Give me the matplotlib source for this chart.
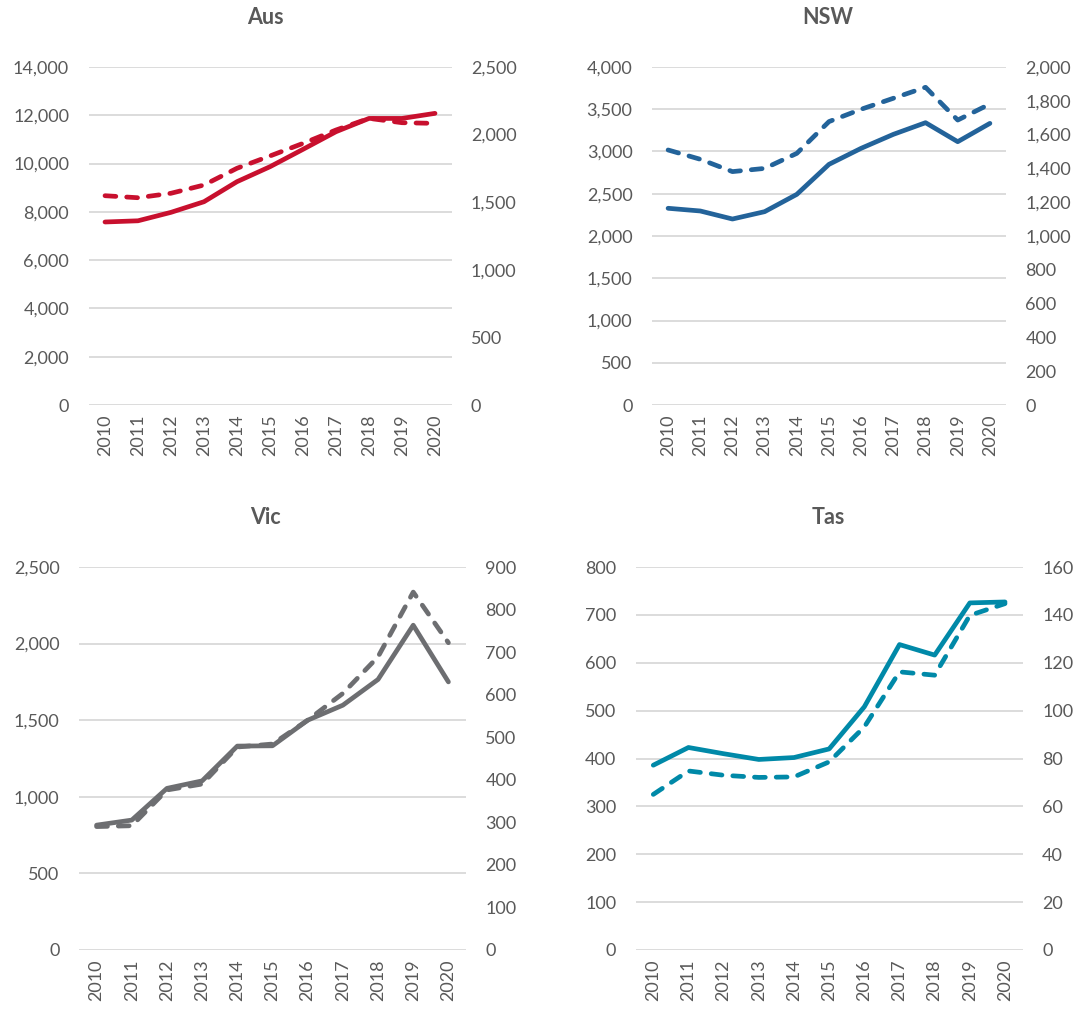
import matplotlib
matplotlib.use("Agg")
import matplotlib.pyplot as plt
from matplotlib.ticker import FuncFormatter, MultipleLocator

plt.rcParams["font.family"] = ["Lato", "DejaVu Sans"]

years = [str(y) for y in range(2010, 2021)]

# solid line -> left axis, dashed line -> right axis
aus_left = [7580, 7630, 7980, 8420, 9250, 9870, 10590, 11320, 11870, 11870, 12080]
aus_right = [1548, 1533, 1566, 1627, 1751, 1842, 1935, 2034, 2120, 2088, 2083]

nsw_left = [2328, 2296, 2201, 2288, 2493, 2848, 3038, 3203, 3341, 3116, 3333]
nsw_right = [1509, 1454, 1381, 1400, 1489, 1677, 1750, 1815, 1880, 1686, 1781]

vic_left = [815, 848, 1055, 1104, 1331, 1333, 1500, 1598, 1766, 2120, 1750]
vic_right = [290, 292, 376, 390, 477, 484, 540, 603, 689, 841, 722]

tas_left = [386, 423, 410, 398, 402, 420, 508, 638, 616, 725, 727]
tas_right = [65, 74.8, 73, 72.1, 72.3, 78.6, 93.2, 116.2, 114.8, 139.8, 144.7]

W, H = 1084, 1009
GREY_TXT = "#595959"
GRID = "#d9d9d9"

# (title, left, right, colour, left max/step, right max/step, axes box in px, title pos px)
panels = [
    ("Aus", aus_left, aus_right, "#c8102e", (14000, 2000), (2500, 500),
     (88.5, 67, 451.5, 405), (265, 18)),
    ("NSW", nsw_left, nsw_right, "#23639a", (4000, 500), (2000, 200),
     (652, 67, 1006, 405), (828, 18)),
    ("Vic", vic_left, vic_right, "#6d6e71", (2500, 500), (900, 100),
     (79, 567, 466, 950), (265, 518)),
    ("Tas", tas_left, tas_right, "#0089a8", (800, 100), (160, 20),
     (635.7, 567, 1022.6, 950), (828, 518)),
]

fmt = FuncFormatter(lambda v, p: f"{v:,.0f}")

fig = plt.figure(figsize=(W / 100, H / 100), dpi=100)

for title, left, right, color, (lmax, lstep), (rmax, rstep), box, tpos in panels:
    x0, y0, x1, y1 = box
    ax = fig.add_axes([x0 / W, 1 - y1 / H, (x1 - x0) / W, (y1 - y0) / H])
    ax2 = ax.twinx()

    x = range(len(years))
    ax.plot(x, left, color=color, lw=3.4, solid_capstyle="round", solid_joinstyle="round", zorder=3)
    ax2.plot(x, right, color=color, lw=3.4, dashes=(2.3, 2.3),
             dash_capstyle="round", dash_joinstyle="round")

    ax.set_xlim(-0.5, len(years) - 0.5)
    ax.set_ylim(0, lmax)
    ax2.set_ylim(0, rmax)
    ax.yaxis.set_major_locator(MultipleLocator(lstep))
    ax2.yaxis.set_major_locator(MultipleLocator(rstep))
    ax.yaxis.set_major_formatter(fmt)
    ax2.yaxis.set_major_formatter(fmt)

    ax.set_xticks(list(x))
    ax.set_xticklabels(years, rotation=90)

    ax.grid(axis="y", color=GRID, lw=1.3)
    ax.set_axisbelow(True)
    for a in (ax, ax2):
        for s in a.spines.values():
            s.set_visible(False)
    ax.tick_params(axis="y", length=0, pad=14, labelsize=13, labelcolor=GREY_TXT)
    ax2.tick_params(axis="y", length=0, pad=14, labelsize=13, labelcolor=GREY_TXT)
    ax.tick_params(axis="x", length=0, pad=7, labelsize=13, labelcolor=GREY_TXT)

    fig.text(tpos[0] / W, 1 - tpos[1] / H, title, ha="center", va="center",
             fontsize=15.5, fontweight="bold", color=GREY_TXT)

fig.savefig("out.png", dpi=100)
